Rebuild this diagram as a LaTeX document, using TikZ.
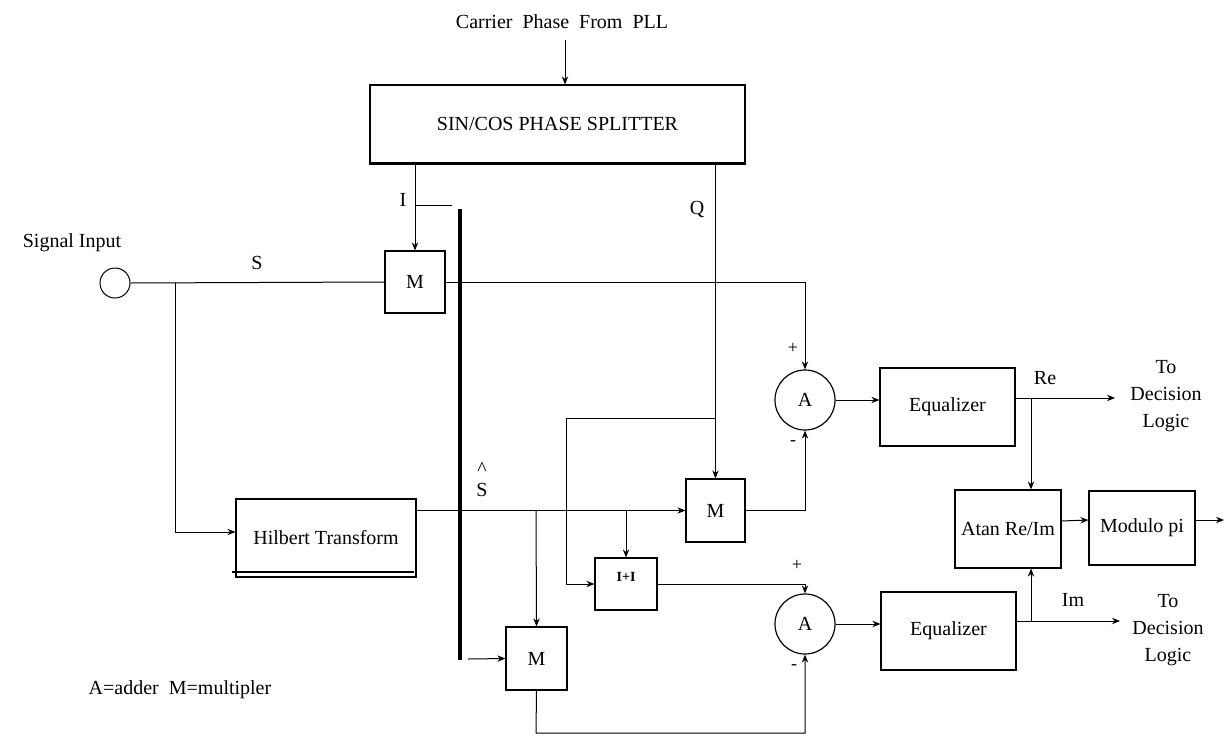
\documentclass[tikz,border=0pt]{standalone}
\usepackage{fontspec}
\setmainfont{Liberation Serif}
\usepackage{tikz}
\usetikzlibrary{arrows.meta,positioning,calc}

\begin{document}
\begin{tikzpicture}[
    x=0.5pt,
    y=-0.5pt,
    font=\fontsize{10}{13.5}\selectfont,
    >={Stealth[length=4pt,width=3.2pt]},
    line width=0.5pt,
    block/.style={rectangle, draw, line width=0.6pt, inner sep=0pt},
    adder/.style={circle, draw, line width=0.6pt, minimum size=30pt, inner sep=0pt},
    sign/.style={font=\small, inner sep=0pt}
  ]
    \useasboundingbox (0,0) rectangle (1224,739);

    \node[inner sep=0pt] (carrier) at (562,22) {Carrier\ \ Phase\ \ From\ \ PLL};
    \node[block, minimum width=187.5pt, minimum height=39pt] (splitter) at (557.5,124) {SIN/COS PHASE SPLITTER};
    \draw[line width=1.1pt] (splitter.south west) -- (splitter.south east);

    \node[circle, draw, minimum size=15pt, inner sep=0pt] (sig) at (115,283) {};
    \node[inner sep=0pt] (siglabel) at (72,243) {Signal Input};
    \node[block, minimum width=30pt, minimum height=31pt] (m1) at (415,282) {M};
    \node[block, minimum width=90pt, minimum height=39pt] (hilbert) at (326,538) {Hilbert Transform};
    \draw[line width=1.1pt] ($(hilbert.south west)+(-3,-6)$) -- ($(hilbert.south east)+(-3,-6)$);
    \node[block, minimum width=29.5pt, minimum height=31.5pt] (m2) at (715.5,510.5) {M};
    \node[block, minimum width=31pt, minimum height=26pt,
      label={[font=\scriptsize, inner sep=0pt, anchor=north, yshift=-7pt]north:{\textbf{I+I}}}] (mbox) at (626,584) {};
    \node[block, minimum width=30.5pt, minimum height=31.5pt] (m3) at (536.5,658.5) {M};

    \node[adder] (add1) at (805,400) {A};
    \node[adder] (add2) at (805,624) {A};
    \node[block, minimum width=67.5pt, minimum height=39pt] (eq1) at (947.5,407) {Equalizer};
    \node[block, minimum width=67.5pt, minimum height=39pt] (eq2) at (948.5,631) {Equalizer};
    \node[block, minimum width=53pt, minimum height=39pt] (atan) at (1008,529) {Atan Re/Im};
    \node[block, minimum width=53pt, minimum height=37pt] (modpi) at (1142,528) {Modulo pi};

    \coordinate (pll) at (565,40);
    \coordinate (ibr) at (415,205);
    \coordinate (iend) at (452,205);
    \coordinate (bartop) at (460,209);
    \coordinate (barbot) at (460,660);
    \coordinate (split) at (175,283);
    \coordinate (qbr) at (715,418);
    \coordinate (qcorner) at (566,418);
    \coordinate (b1) at (536,511);
    \coordinate (b2) at (626,511);
    \coordinate (m3in) at (468,659);
    \coordinate (m3low) at (536,733);
    \coordinate (rebr) at (1031,398);
    \coordinate (imbr) at (1031,621);
    \coordinate (reout) at (1115,398);
    \coordinate (imout) at (1120,621);
    \coordinate (out) at (1224,520);

    \draw[->] (pll) -- (pll |- splitter.north);
    \draw[->] (splitter.south -| m1) -- (m1.north);
    \draw (ibr) -- (iend);
    \draw[line width=1.6pt] (bartop) -- (barbot);
    \draw[->] (splitter.south -| m2) -- (m2.north);

    \draw (sig.east) -- (m1.west);
    \draw[->] (split) |- ([yshift=3pt]hilbert.west);
    \draw[->] (m1.east) -| (add1.north);
    \draw[->] (hilbert.east |- m2.west) -- (m2.west);
    \draw[->] (b1) -- (m3.north);
    \draw[->] (b2) -- (mbox.north);
    \draw[->] (qbr) -- (qcorner) |- (mbox.west);
    \draw[->] (mbox.east) -| (add2.north);
    \draw[->] (m3in) -- (m3.west);
    \draw[->] (m3.south) -- (m3low) -| (add2.south);
    \draw[->] (m2.east) -| (add1.south);

    \draw[->] (add1.east) -- (eq1.west |- add1.east);
    \draw[->] (add2.east) -- (eq2.west |- add2.east);
    \draw[->] ([yshift=4.5pt]eq1.east) -- (reout);
    \draw[->] ([yshift=5pt]eq2.east) -- (imout);
    \draw[->] (rebr) -- (rebr |- atan.north);
    \draw[->] (imbr) -- (imbr |- atan.south);
    \draw[->] ([yshift=4pt]atan.east) -- ([yshift=4pt]modpi.west);
    \draw[->] ([yshift=4pt]modpi.east) -- (out);

    \node[inner sep=0pt] (ilabel) at (403,200) {I};
    \node[inner sep=0pt] (qlabel) at (697,209) {Q};
    \node[inner sep=0pt] (slabel) at (257,263) {S};
    \node[inner sep=0pt, align=center] (shat) at (482,480) {\^{}\\[-3pt]S};
    \node[sign] (p1) at (793,348) {+};
    \node[sign] (n1) at (793,443) {-};
    \node[sign] (p2) at (797,565) {+};
    \node[sign] (n2) at (794,667) {-};
    \node[inner sep=0pt] (relabel) at (1045,378) {Re};
    \node[inner sep=0pt] (imlabel) at (1073,600) {Im};
    \node[inner sep=0pt, align=center] (dec1) at (1166,396) {To\\Decision\\Logic};
    \node[inner sep=0pt, align=center] (dec2) at (1168,630) {To\\Decision\\Logic};
    \node[inner sep=0pt] (legend) at (180,690) {A=adder\ \ M=multipler};
  \end{tikzpicture}
\end{document}
